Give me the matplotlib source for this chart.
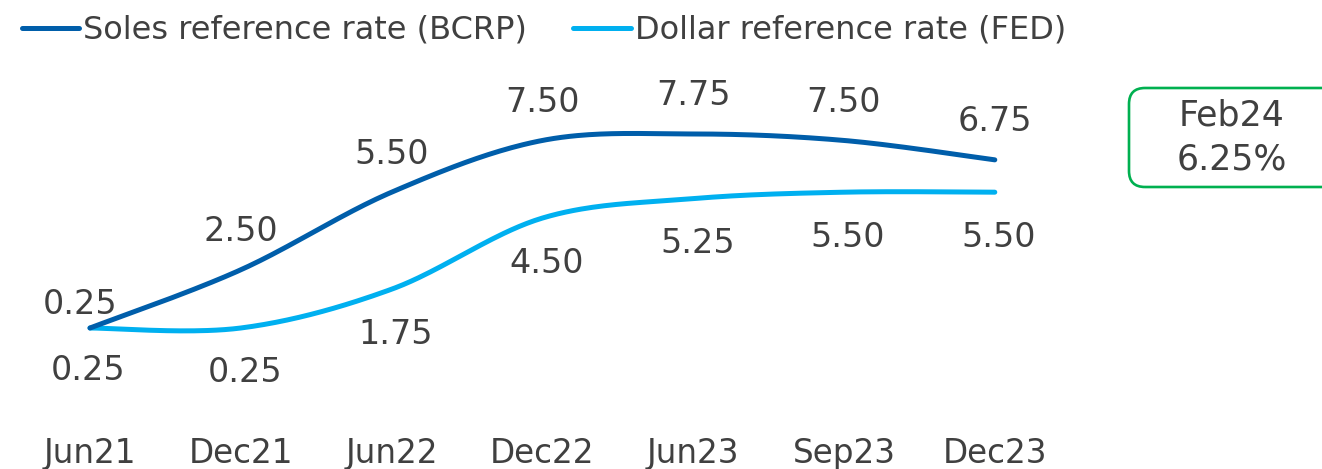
import numpy as np
import matplotlib
matplotlib.use("Agg")
import matplotlib.pyplot as plt
from matplotlib.patches import FancyBboxPatch
from matplotlib.lines import Line2D

categories = ["Jun21", "Dec21", "Jun22", "Dec22", "Jun23", "Sep23", "Dec23"]
soles = [0.25, 2.50, 5.50, 7.50, 7.75, 7.50, 6.75]
dollar = [0.25, 0.25, 1.75, 4.50, 5.25, 5.50, 5.50]
soles_name = "Soles reference rate (BCRP)"
dollar_name = "Dollar reference rate (FED)"
box_lines = ["Feb24", "6.25%"]

C_SOLES = "#005EAA"
C_DOLLAR = "#00B0F0"
C_TEXT = "#404040"
C_GREEN = "#00B050"
FONT = "DejaVu Sans"

W, H, DPI = 1322, 469, 100
fig = plt.figure(figsize=(W / DPI, H / DPI), dpi=DPI)
ax = fig.add_axes([0, 0, 1, 1])
ax.set_axis_off()

# pixel mapping: x index i -> 90 + 150.8*i ; value v -> pixel-from-bottom 141 + (v-0.25)*25.87
px_x = 150.8
px_y = 25.87
ax.set_xlim(-90 / px_x, (W - 90) / px_x)
ax.set_ylim(0.25 - 141 / px_y, 0.25 + (H - 141) / px_y)


def smooth(xs, ys, n=40):
    xs = np.asarray(xs, float)
    ys = np.asarray(ys, float)
    P = np.column_stack([xs, ys])
    out = []
    for i in range(len(P) - 1):
        p0 = P[i - 1] if i > 0 else P[i]
        p1 = P[i]
        p2 = P[i + 1]
        p3 = P[i + 2] if i + 2 < len(P) else P[i + 1]
        c1 = p1 + (p2 - p0) / 6.0
        c2 = p2 - (p3 - p1) / 6.0
        t = np.linspace(0, 1, n)[:, None]
        seg = ((1 - t) ** 3) * p1 + 3 * ((1 - t) ** 2) * t * c1 + 3 * (1 - t) * t ** 2 * c2 + t ** 3 * p2
        out.append(seg if i == 0 else seg[1:])
    out = np.vstack(out)
    return out[:, 0], out[:, 1]


x = np.arange(len(categories))
for vals, col in [(dollar, C_DOLLAR), (soles, C_SOLES)]:
    sx, sy = smooth(x, vals)
    ax.plot(sx, sy, color=col, lw=3.6, solid_capstyle="round", zorder=3)

PT = 72 / DPI  # pixels -> points
LBL = 24
for i, v in enumerate(soles):
    dx, dy = (0, 38) if i > 0 else (-10, 23)
    ax.annotate(f"{v:.2f}", (x[i], v), xytext=(dx * PT, dy * PT), textcoords="offset points",
                ha="center", va="center", fontsize=LBL, color=C_TEXT, family=FONT, zorder=4)
for i, v in enumerate(dollar):
    dx, dy = (4, -45) if i > 0 else (-2, -42)
    ax.annotate(f"{v:.2f}", (x[i], v), xytext=(dx * PT, dy * PT), textcoords="offset points",
                ha="center", va="center", fontsize=LBL, color=C_TEXT, family=FONT, zorder=4)

# category labels
trans = ax.get_xaxis_transform()
for i, c in enumerate(categories):
    ax.text(x[i], 1 - 453 / H, c, transform=trans, ha="center", va="center",
            fontsize=23.5, color=C_TEXT, family=FONT)

# legend
handles = [Line2D([], [], color=C_SOLES, lw=3.6, solid_capstyle="round"),
           Line2D([], [], color=C_DOLLAR, lw=3.6, solid_capstyle="round")]
leg = fig.legend(handles, [soles_name, dollar_name], loc="upper left",
                 bbox_to_anchor=(-7 / W, 1 + 14 / H), ncol=2, frameon=False,
                 handlelength=1.8, handletextpad=0.12, columnspacing=1.45,
                 prop={"family": FONT, "size": 23})
for t in leg.get_texts():
    t.set_color(C_TEXT)

# Feb24 box (in inches via dpi_scale_trans)
bx0, by0, bx1, by1 = 1129, 88, 1340, 187  # pixels (top-origin)
box = FancyBboxPatch((bx0 / DPI, (H - by1) / DPI), (bx1 - bx0) / DPI, (by1 - by0) / DPI,
                     boxstyle="round,pad=0,rounding_size=0.16", transform=fig.dpi_scale_trans,
                     fill=False, edgecolor=C_GREEN, lw=1.9, clip_on=False)
fig.add_artist(box)
fig.text(1232 / W, 1 - 116 / H, box_lines[0], ha="center", va="center", fontsize=25,
         color=C_TEXT, family=FONT)
fig.text(1232 / W, 1 - 160 / H, box_lines[1], ha="center", va="center", fontsize=25,
         color=C_TEXT, family=FONT)

fig.savefig("out.png", dpi=DPI, facecolor="white")
